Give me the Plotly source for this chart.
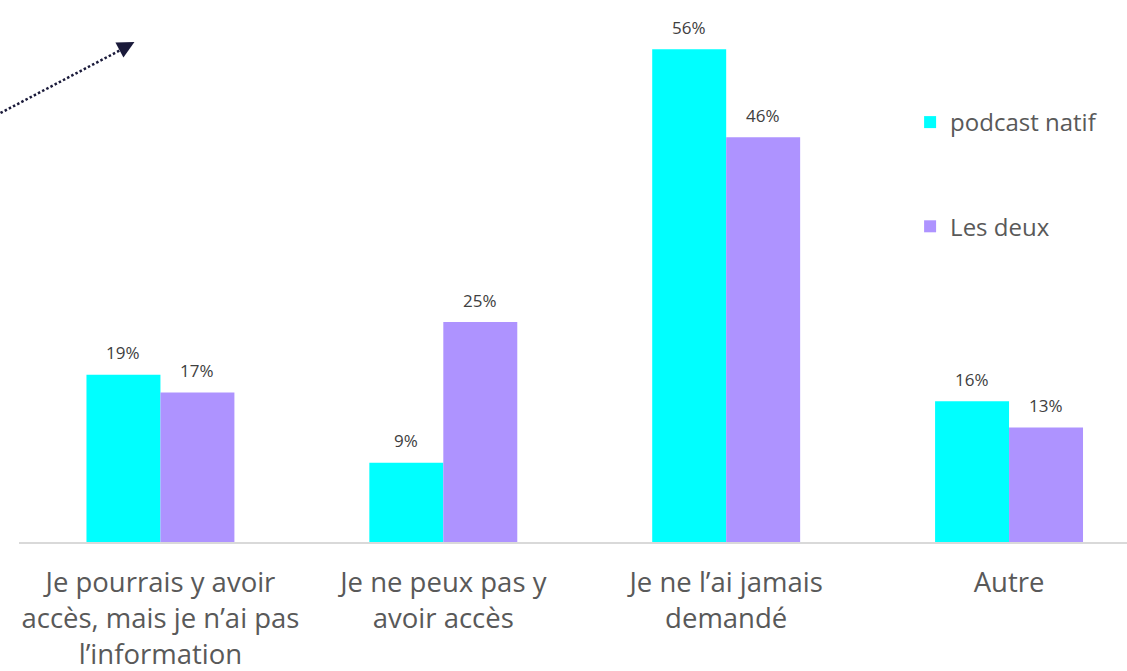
import plotly.graph_objects as go

categories = [
    "Je pourrais y avoir<br>accès, mais je n’ai pas<br>l’information",
    "Je ne peux pas y<br>avoir accès",
    "Je ne l’ai jamais<br>demandé",
    "Autre",
]
podcast_natif = [19, 9, 56, 16]
les_deux = [17, 25, 46, 13]
series_names = ["podcast natif", "Les deux"]
series_colors = ["#00FFFF", "#AE93FF"]

FONT = "Open Sans"
LABEL_COLOR = "#404040"
TEXT_COLOR = "#595959"
BARGAP = 0.477

x_idx = list(range(len(categories)))
fig = go.Figure()
for name, vals, col, grp in zip(series_names, [podcast_natif, les_deux], series_colors, ["a", "b"]):
    fig.add_trace(go.Bar(
        x=x_idx, y=vals, name=name,
        marker=dict(color=col, line=dict(width=0)),
        legendgroup=grp,
    ))

# data labels above bars
half = (1 - BARGAP) / 4.0
for k, vals in enumerate([podcast_natif, les_deux]):
    off = -half if k == 0 else half
    for i, v in enumerate(vals):
        fig.add_annotation(x=i + off, y=v, xref="x", yref="y", text=f"{v}%",
                           showarrow=False, yanchor="middle", yshift=22,
                           font=dict(family=FONT, size=17, color=LABEL_COLOR))

W, H = 1127, 671
L, B = 18.5, 129
pw = W - L
ph = H - B


def px_x(p):
    return (p - L) / pw


def px_y(p):
    return (ph - p) / ph


# dotted arrow line
fig.add_shape(type="line", xref="paper", yref="paper",
              x0=px_x(0), y0=px_y(113), x1=px_x(124), y1=px_y(48),
              line=dict(color="#1A1A3A", width=2.5, dash="2.5px,2.2px"))
fig.add_annotation(xref="paper", yref="paper", x=px_x(134), y=px_y(42),
                   ax=-16, ay=8.5, text="", showarrow=True, arrowhead=2,
                   arrowsize=1.7, arrowwidth=2, arrowcolor="#1A1A3A", standoff=0)

fig.update_layout(
    width=W, height=H,
    margin=dict(l=L, r=0, t=0, b=B, pad=0),
    paper_bgcolor="white", plot_bgcolor="white",
    barmode="group", bargap=BARGAP, bargroupgap=0,
    font=dict(family=FONT, color=TEXT_COLOR),
    showlegend=True,
    legend=dict(x=px_x(910), y=px_y(100), xanchor="left", yanchor="top",
                traceorder="grouped", tracegroupgap=70,
                font=dict(family=FONT, size=24, color=TEXT_COLOR),
                bgcolor="rgba(0,0,0,0)"),
    xaxis=dict(tickmode="array", tickvals=x_idx,
               ticktext=categories, range=[-0.5, -0.5 + pw / 283.0],
               showline=True, linecolor="#D9D9D9", linewidth=2,
               showgrid=False, zeroline=False, ticks="",
               ticklabelstandoff=15,
               tickfont=dict(family=FONT, size=27.5, color=TEXT_COLOR)),
    yaxis=dict(range=[0, ph / 8.8], visible=False, showgrid=False, zeroline=False),
)

fig.write_html("out.html", config={"displayModeBar": False},
               post_script="document.body.style.margin='0px';")
